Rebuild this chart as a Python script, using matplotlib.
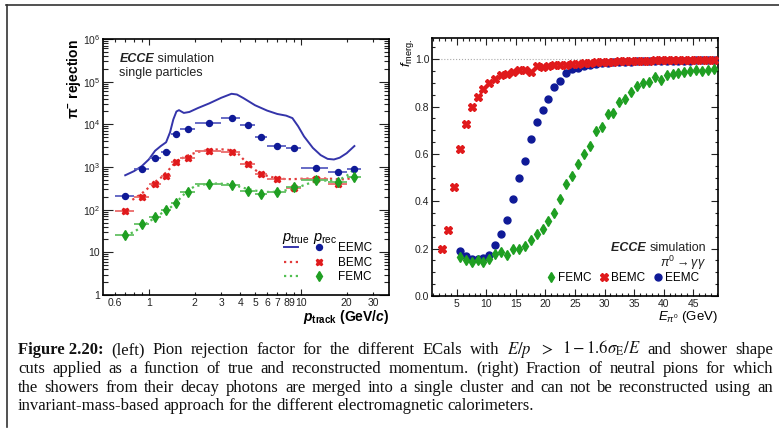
import numpy as np
import matplotlib
matplotlib.use("Agg")
import matplotlib.pyplot as plt
from matplotlib.lines import Line2D
from matplotlib.ticker import (FixedLocator, FixedFormatter, NullFormatter,
                               LogLocator, MultipleLocator, FormatStrFormatter)

plt.rcParams['font.family'] = ['Liberation Sans', 'DejaVu Sans']
plt.rcParams['mathtext.fontset'] = 'custom'
plt.rcParams['mathtext.rm'] = 'Liberation Sans'
plt.rcParams['mathtext.it'] = 'Liberation Sans:italic'
plt.rcParams['mathtext.bf'] = 'Liberation Sans:bold'
plt.rcParams['mathtext.sf'] = 'Liberation Sans:bold:italic'

# ---------------- left: pion rejection vs momentum ----------------
# p_true curves
ptrue_eemc = [0.70, 0.80, 0.90, 1.0, 1.1, 1.2, 1.3, 1.38, 1.45, 1.52, 1.58, 1.7, 1.85,
              2.1, 2.5, 3.0, 3.5, 3.8, 4.2, 5.0, 6.0, 7.0, 8.0, 8.8, 9.6, 10.5, 12.0,
              13.5, 15.0, 16.5, 18.0, 20.0, 22.5]
rtrue_eemc = [640, 800, 1050, 1500, 2400, 3100, 3800, 6500, 13000, 20000, 21500, 18500,
              19500, 24000, 31000, 42000, 52000, 50000, 41000, 28000, 21000, 17500, 16000,
              14000, 9000, 5200, 2800, 1900, 1550, 1500, 1650, 2100, 3100]
ptrue_bemc = [0.78, 0.9, 1.0, 1.1, 1.2, 1.35, 1.5, 1.7, 1.9, 2.2, 2.6, 3.0, 3.4, 3.8, 4.2,
              4.7, 5.2, 6.0, 7.0, 8.0, 9.0, 10.0, 12.0, 14.0, 16.0, 18.0, 20.0, 22.0]
rtrue_bemc = [170, 240, 330, 450, 560, 850, 1300, 1700, 2000, 2350, 2550, 2600, 2500, 2200,
              1500, 1000, 780, 620, 540, 520, 520, 530, 540, 540, 530, 510, 520, 560]
ptrue_femc = [0.7, 0.8, 0.9, 1.0, 1.1, 1.2, 1.4, 1.6, 1.8, 2.0, 2.4, 2.8, 3.3, 3.8, 4.4,
              5.0, 5.8, 7.0, 8.0, 9.5, 11.0, 13.0, 15.0, 17.5, 20.0, 22.5]
rtrue_femc = [25, 30, 40, 52, 65, 80, 115, 180, 280, 350, 400, 410, 400, 360, 310, 280,
              260, 262, 285, 330, 400, 480, 480, 480, 620, 900]

# p_rec points (momentum bins)
p_rec = [0.7, 0.9, 1.1, 1.3, 1.5, 1.8, 2.5, 3.5, 4.5, 5.5, 7.0, 9.0, 12.5, 17.5, 22.5]
bin_lo = [0.6, 0.8, 1.0, 1.2, 1.4, 1.6, 2.0, 3.0, 4.0, 5.0, 6.0, 8.0, 10.0, 15.0, 20.0]
bin_hi = [0.8, 1.0, 1.2, 1.4, 1.6, 2.0, 3.0, 4.0, 5.0, 6.0, 8.0, 10.0, 15.0, 20.0, 25.0]
rrec_eemc = [205, 900, 1590, 2200, 5900, 7600, 11000, 14300, 9800, 5000, 3150, 2720, 955, 767, 885]
rrec_bemc = [95, 195, 395, 610, 1290, 1660, 2350, 2200, 1165, 680, 515, 330, 510, 390, np.nan]
rrec_femc = [25, 47, 67, 100, 143, 260, 410, 373, 270, 238, 260, 340, 490, 445, 585]

px_major = [1, 10]
px_major_lbl = ['1', '10']
px_minor = [0.6, 0.7, 0.8, 0.9, 2, 3, 4, 5, 6, 7, 8, 9, 20, 30]
px_minor_lbl = ['0.6', '', '', '', '2', '3', '4', '5', '6', '7', '8', '9', '20', '30']
ry_ticks = [1, 10, 1e2, 1e3, 1e4, 1e5, 1e6]
ry_lbl = ['1', '10', r'$10^{2}$', r'$10^{3}$', r'$10^{4}$', r'$10^{5}$', r'$10^{6}$']

# ---------------- right: merged fraction vs pi0 energy ----------------
e_bemc = [2.5, 3.5, 4.5, 5.5, 6.5, 7.5, 8.5, 9.5, 10.5, 11.5, 12.5, 13.5, 14.5, 15.5,
          16.5, 17.5, 18.5, 19.5, 20.5, 21.5, 22.5, 23.5, 24.5, 25.5, 26.5, 27.5, 28.5,
          29.5, 30.5, 31.5, 32.5, 33.5, 34.5, 35.5, 36.5, 37.5, 38.5, 39.5, 40.5, 41.5,
          42.5, 43.5, 44.5, 45.5, 46.5, 47.5, 48.5]
f_bemc = [0.197, 0.28, 0.46, 0.62, 0.726, 0.797, 0.84, 0.875, 0.90, 0.918, 0.932, 0.938,
          0.947, 0.953, 0.955, 0.945, 0.970, 0.966, 0.970, 0.975, 0.977, 0.978, 0.980,
          0.981, 0.983, 0.985, 0.987, 0.988, 0.990, 0.990, 0.992, 0.991, 0.993, 0.993,
          0.994, 0.994, 0.995, 0.995, 0.995, 0.996, 0.996, 0.996, 0.997, 0.997, 0.997,
          0.997, 0.998]
e_cal = [5.5, 6.5, 7.5, 8.5, 9.5, 10.5, 11.5, 12.5, 13.5, 14.5, 15.5, 16.5, 17.5, 18.5,
         19.5, 20.5, 21.5, 22.5, 23.5, 24.5, 25.5, 26.5, 27.5, 28.5, 29.5, 30.5, 31.5,
         32.5, 33.5, 34.5, 35.5, 36.5, 37.5, 38.5, 39.5, 40.5, 41.5, 42.5, 43.5, 44.5,
         45.5, 46.5, 47.5, 48.5]
f_eemc = [0.19, 0.17, 0.158, 0.155, 0.16, 0.175, 0.215, 0.26, 0.322, 0.41, 0.50, 0.57,
          0.665, 0.736, 0.787, 0.833, 0.882, 0.91, 0.942, 0.960, 0.965, 0.970, 0.976,
          0.980, 0.983, 0.985, 0.987, 0.988, 0.989, 0.990, 0.991, 0.991, 0.992, 0.992,
          0.993, 0.993, 0.993, 0.994, 0.994, 0.994, 0.995, 0.995, 0.995, 0.995]
f_femc = [0.163, 0.15, 0.145, 0.15, 0.145, 0.155, 0.178, 0.185, 0.175, 0.197, 0.20, 0.212,
          0.236, 0.26, 0.281, 0.316, 0.352, 0.408, 0.472, 0.507, 0.558, 0.60, 0.634, 0.695,
          0.712, 0.768, 0.775, 0.818, 0.832, 0.862, 0.886, 0.90, 0.903, 0.924, 0.914, 0.935,
          0.938, 0.942, 0.945, 0.949, 0.956, 0.949, 0.956, 0.96]

caption = [
    [("Figure 2.20:", "bold"), "(left)", "Pion", "rejection", "factor", "for", "the",
     "different", "ECals", "with", r"$E/p$", r"$>$", r"$1 - 1.6\sigma_{\rm E}/E$", "and",
     "shower", "shape"],
    "cuts applied as a function of true and reconstructed momentum. (right) Fraction of "
    "neutral pions for which".split(),
    "the showers from their decay photons are merged into a single cluster and can not "
    "be reconstructed using an".split(),
    "invariant-mass-based approach for the different electromagnetic calorimeters.".split(),
]

BLUE, RED, GREEN = '#0f1a97', '#e01a1c', '#1f9f22'
BLUE_L, RED_L, GREEN_L = '#3434aa', '#e23b3b', '#52c052'

W, H = 779, 430
fig = plt.figure(figsize=(W / 100, H / 100), dpi=100)


def px_box(x0, y0, x1, y1):
    return [x0 / W, 1 - y1 / H, (x1 - x0) / W, (y1 - y0) / H]


ax1 = fig.add_axes(px_box(103, 39, 389, 295))
ax2 = fig.add_axes(px_box(432, 38, 718, 296))

# left panel
ln_e, = ax1.plot(ptrue_eemc, rtrue_eemc, '-', color=BLUE_L, lw=1.4)
ln_b, = ax1.plot(ptrue_bemc, rtrue_bemc, ':', color=RED_L, lw=1.6)
ln_f, = ax1.plot(ptrue_femc, rtrue_femc, ':', color=GREEN_L, lw=1.6)
xerr = [np.subtract(p_rec, bin_lo), np.subtract(bin_hi, p_rec)]
eb_e = ax1.errorbar(p_rec, rrec_eemc, xerr=xerr, fmt='o', color=BLUE, ecolor='#5a5fc0',
                    ms=4.3, elinewidth=1.3, capsize=0, zorder=4)
eb_b = ax1.errorbar(p_rec, rrec_bemc, xerr=xerr, fmt='X', color=RED, ecolor='#ea6a6a',
                    ms=5, elinewidth=1.3, capsize=0, zorder=4)
eb_f = ax1.errorbar(p_rec, rrec_femc, xerr=xerr, fmt='d', color=GREEN, ecolor='#64c064',
                    ms=5, elinewidth=1.3, capsize=0, zorder=5)

ax1.set_xscale('log')
ax1.set_yscale('log')
ax1.set_xlim(0.5, 38)
ax1.set_ylim(1, 1e6)
ax1.xaxis.set_major_locator(FixedLocator(px_major))
ax1.xaxis.set_major_formatter(FixedFormatter(px_major_lbl))
ax1.xaxis.set_minor_locator(FixedLocator(px_minor))
ax1.xaxis.set_minor_formatter(FixedFormatter(px_minor_lbl))
ax1.yaxis.set_major_locator(FixedLocator(ry_ticks))
ax1.yaxis.set_major_formatter(FixedFormatter(ry_lbl))
ax1.yaxis.set_minor_locator(LogLocator(base=10, subs=np.arange(2, 10), numticks=30))
ax1.yaxis.set_minor_formatter(NullFormatter())

ax1.set_ylabel(r'$\mathbf{\pi}^{\mathbf{-}}$ rejection', loc='top', fontsize=10,
               fontweight='bold', labelpad=-0.5)
ax1.set_xlabel(r'$\mathsf{p}_{\mathbf{track}}$ (GeV/$\mathsf{c}$)', loc='right',
               fontsize=10, fontweight='bold', labelpad=0.5)

t = ax1.text(0.057, 0.921, 'ECCE', transform=ax1.transAxes, fontsize=9,
             fontweight='bold', style='italic', va='center', color='#222')
ax1.annotate(' simulation', xy=(1, 0.5), xycoords=t, va='center', ha='left',
             fontsize=9, color='#222')
ax1.text(0.057, 0.868, 'single particles', transform=ax1.transAxes, fontsize=9,
         va='center', color='#222')

ax1.text(0.625, 0.211, r'$p_{\rm true}$', transform=ax1.transAxes, fontsize=10.5,
         va='baseline')
ax1.text(0.734, 0.211, r'$p_{\rm rec}$', transform=ax1.transAxes, fontsize=10.5,
         va='baseline')
leg_lines = ax1.legend([ln_e, ln_b, ln_f], ['', '', ''], loc='center left',
                       bbox_to_anchor=(0.633, 0.126), frameon=False, fontsize=8.5,
                       handlelength=1.2, handletextpad=0, borderpad=0,
                       borderaxespad=0, labelspacing=0.2)
ax1.add_artist(leg_lines)
ax1.legend([eb_e[0], eb_b[0], eb_f[0]], ['EEMC', 'BEMC', 'FEMC'], loc='center left',
           bbox_to_anchor=(0.735, 0.126), frameon=False, fontsize=8.5, numpoints=1,
           handlelength=1.0, handletextpad=1.1, borderpad=0, borderaxespad=0,
           labelspacing=0.2)

# right panel
ax2.axhline(1.0, color='#aaaaaa', ls=':', lw=0.8, zorder=0)
pt_e, = ax2.plot(e_cal, f_eemc, 'o', color=BLUE, ms=5, zorder=3)
eb_g = ax2.errorbar(e_cal, f_femc, yerr=0.012, fmt='d', color=GREEN, ms=5,
                    elinewidth=1, capsize=0, zorder=4)
pt_b, = ax2.plot(e_bemc, f_bemc, 'X', color=RED, ms=5.5, zorder=5)

ax2.set_xlim(0.8, 49.2)
ax2.set_ylim(0, 1.09)
ax2.xaxis.set_major_locator(MultipleLocator(5))
ax2.xaxis.set_minor_locator(MultipleLocator(1))
ax2.yaxis.set_major_locator(MultipleLocator(0.2))
ax2.yaxis.set_major_formatter(FormatStrFormatter('%.1f'))
ax2.yaxis.set_minor_locator(MultipleLocator(0.05))
ax2.set_xlabel(r'$E_{\pi^{0}}$ (GeV)', loc='right', fontsize=9.5, labelpad=0)
ax2.set_ylabel(r'$f_{\rm merg.}$', loc='top', fontsize=9.5, labelpad=-1)

t = ax2.text(0.958, 0.187, 'simulation', transform=ax2.transAxes, fontsize=9,
             ha='right', va='center', color='#222')
ax2.annotate('ECCE ', xy=(0, 0.5), xycoords=t, ha='right', va='center', fontsize=9,
             fontweight='bold', style='italic', color='#222')
ax2.text(0.958, 0.128, r'$\pi^{0} \rightarrow \gamma\gamma$', transform=ax2.transAxes,
         fontsize=9, ha='right', va='center', color='#222')
ax2.legend([eb_g[0], pt_b, pt_e], ['FEMC', 'BEMC', 'EEMC'], ncol=3, loc='center left',
           bbox_to_anchor=(0.40, 0.07), frameon=False, fontsize=8.5, numpoints=1,
           handlelength=0.8, handletextpad=0.2, columnspacing=0.65, borderpad=0,
           borderaxespad=0)

# axis styling
for ax in (ax1, ax2):
    ax.tick_params(which='both', direction='in', top=True, right=True, labelsize=7.5,
                   colors='#222', width=0.8, pad=2)
    for s in ax.spines.values():
        s.set_linewidth(1.2)
ax1.tick_params(axis='x', which='major', length=4.5)
ax1.tick_params(axis='x', which='minor', length=2)
ax1.tick_params(axis='y', which='major', length=7)
ax1.tick_params(axis='y', which='minor', length=3.5)
ax2.tick_params(which='major', length=5)
ax2.tick_params(which='minor', length=2.5)

# keep the "9" and "10" labels from running into each other
fig.canvas.draw()
for tk in ax1.xaxis.get_minor_ticks():
    if tk.label1.get_text() == '9':
        tk.label1.set_horizontalalignment('right')

# page frame
fig.add_artist(Line2D([6 / W, 1], [1 - 5 / H] * 2, transform=fig.transFigure,
                      color='#333333', lw=1.2))
fig.add_artist(Line2D([7 / W] * 2, [1 - 5 / H, 1 - 427 / H], transform=fig.transFigure,
                      color='#333333', lw=1.2))

# justified caption below the panels
renderer = fig.canvas.get_renderer()
x_left, x_right = 18, 773
baselines = [354, 373, 391.5, 410]
for i, (words, yb) in enumerate(zip(caption, baselines)):
    arts = []
    for w in words:
        weight = 'normal'
        if isinstance(w, tuple):
            w, weight = w
        arts.append(fig.text(0, 1 - yb / H, w, fontsize=12, family='Liberation Serif',
                             weight=weight, va='baseline', ha='left',
                             math_fontfamily='stix', color='#111111'))
    widths = [a.get_window_extent(renderer).width for a in arts]
    last = i == len(caption) - 1
    gap = 4 if last else (x_right - x_left - sum(widths)) / (len(arts) - 1)
    x = x_left
    for a, w in zip(arts, widths):
        a.set_x(x / W)
        x += w + gap

fig.savefig('out.png', dpi=100)
